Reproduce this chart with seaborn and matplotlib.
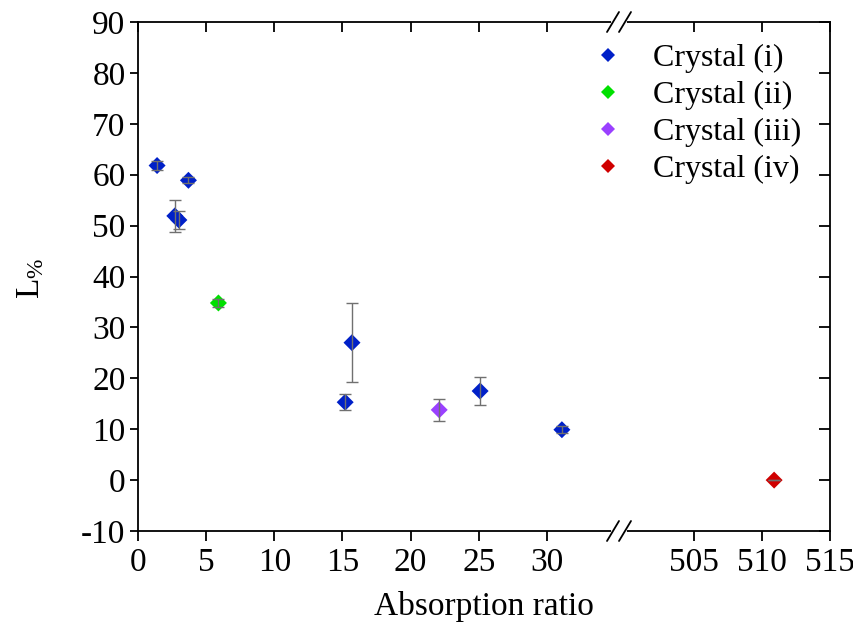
import matplotlib
matplotlib.use('Agg')
import matplotlib.pyplot as plt
import matplotlib.lines as mlines
import pandas as pd
import seaborn as sns

# ---- data ----
crystal = ['Crystal (i)'] * 8 + ['Crystal (ii)', 'Crystal (iii)', 'Crystal (iv)']
ratio = [1.4, 3.7, 2.7, 3.0, 15.2, 15.7, 25.1, 31.1, 5.9, 22.1, 510.9]
lpct = [61.8, 58.9, 51.9, 51.1, 15.3, 27.0, 17.5, 9.9, 34.8, 13.8, 0.0]
lerr = [0.8, 0.6, 3.2, 1.8, 1.6, 7.8, 2.7, 0.7, 0.8, 2.1, 0.0]
hue_order = ['Crystal (i)', 'Crystal (ii)', 'Crystal (iii)', 'Crystal (iv)']
colors = ['#0020C8', '#00E000', '#9A40FF', '#D00000']
left_ticks = [0, 5, 10, 15, 20, 25, 30]
right_ticks = [505, 510, 515]
y_ticks = [-10, 0, 10, 20, 30, 40, 50, 60, 70, 80, 90]

df = pd.DataFrame({'crystal': crystal, 'ratio': ratio, 'L': lpct, 'err': lerr})
palette = dict(zip(hue_order, colors))

sns.set_theme(style='white')
plt.rcParams['font.family'] = ['Liberation Serif', 'DejaVu Serif']
plt.rcParams['mathtext.fontset'] = 'custom'
plt.rcParams['mathtext.rm'] = 'Liberation Serif'
plt.rcParams['mathtext.it'] = 'Liberation Serif:italic'
for k in ('text.color', 'axes.labelcolor', 'xtick.color', 'ytick.color'):
    plt.rcParams[k] = 'black'

W, H = 854, 627
fig = plt.figure(figsize=(W / 100, H / 100), dpi=100)
x0, xb, x1 = 138, 619, 830
ytop, ybot = 22, 531
bottom = 1 - ybot / H
height = (ybot - ytop) / H
ax1 = fig.add_axes([x0 / W, bottom, (xb - x0) / W, height])
ax2 = fig.add_axes([xb / W, bottom, (x1 - xb) / W, height])

ppu = 13.63
for ax, lim in [(ax1, (0, (xb - x0) / ppu)), (ax2, (515 - (x1 - xb) / ppu, 515))]:
    sns.scatterplot(data=df, x='ratio', y='L', hue='crystal', hue_order=hue_order,
                    palette=palette, marker='D', s=75, linewidth=0, ax=ax,
                    legend=(ax is ax1), zorder=2)
    ax.errorbar(df['ratio'], df['L'], yerr=df['err'], fmt='none', ecolor='#707070',
                elinewidth=1.0, capsize=4.3, capthick=1.0, zorder=3)
    ax.set_xlim(*lim)
    ax.set_ylim(-10, 90)
    ax.set_xlabel('')
    ax.set_ylabel('')
    for sp in ax.spines.values():
        sp.set_linewidth(1.3)
        sp.set_color('black')

ax1.spines['right'].set_visible(False)
ax2.spines['left'].set_visible(False)

ax1.set_xticks(left_ticks)
ax2.set_xticks(right_ticks)
ax1.set_yticks(y_ticks)
ax1.set_yticklabels([str(v) for v in y_ticks])
ax2.set_yticks(y_ticks)

for ax in (ax1, ax2):
    ax.tick_params(axis='x', which='both', bottom=True, top=True, direction='out',
                   length=7, width=1.3, labelsize=24, pad=5)
ax1.tick_params(axis='y', left=True, right=False, direction='out', length=6,
                width=1.3, labelsize=24, pad=3)
ax2.tick_params(axis='y', left=False, right=True, labelleft=False,
                labelright=False, direction='in', length=8, width=1.3)
# top ticks inward
for ax in (ax1, ax2):
    for t in ax.xaxis.get_major_ticks():
        t.tick2line.set_marker(3)  # TICKDOWN
        t.tick2line.set_markersize(7)

# legend
handles, labels = ax1.get_legend_handles_labels()
ax1.get_legend().remove()
fig.legend(handles, labels, loc='upper left', bbox_to_anchor=(584 / W, 1 - 44 / H),
           frameon=False, fontsize=23, handlelength=1.5, handletextpad=0.65,
           labelspacing=0.24, borderpad=0, borderaxespad=0, markerscale=0.85)

# axis labels
fig.text((x0 + x1) / 2 / W, 1 - 606 / H, 'Absorption ratio', ha='center', va='center',
         fontsize=24)
fig.text(31 / W, 1 - 278 / H, r'L$_{\%}$', ha='center', va='center', rotation=90,
         fontsize=24)

# break marks
for yc in (ytop, ybot):
    fig.add_artist(mlines.Line2D([(xb - 6) / W, (xb + 6) / W], [1 - yc / H, 1 - yc / H],
                                 color='white', lw=3, transform=fig.transFigure, zorder=10))
    for dx in (-6, 6):
        xs = [(xb + dx - 6) / W, (xb + dx + 6) / W]
        ys = [1 - (yc + 10) / H, 1 - (yc - 10) / H]
        fig.add_artist(mlines.Line2D(xs, ys, color='black', lw=1.3,
                                     transform=fig.transFigure, zorder=11))

fig.savefig('out.png', dpi=100)
